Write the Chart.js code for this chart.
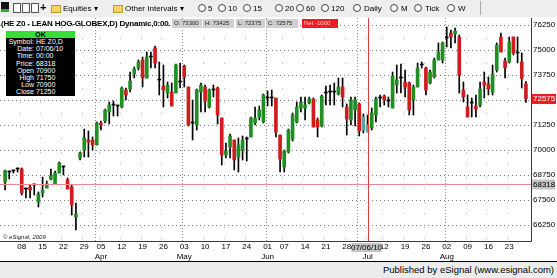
<!DOCTYPE html>
<html>
<head>
<meta charset="utf-8">
<script src="https://cdn.jsdelivr.net/npm/chart.js@4.4.1/dist/chart.umd.min.js"></script>
<style>
body { margin: 0; background: #fff; font-family: "Liberation Sans", Arial, sans-serif; }
#wrap { position: relative; width: 557px; height: 278px; overflow: hidden; }
#chart { position: absolute; left: 0; top: 0; }
.abs { position: absolute; white-space: nowrap; }
#toolbar { left: 0; top: 0; width: 557px; height: 17px; background: #eeeeee; font-size: 8px; color: #000; }
#toolbar .t { position: absolute; top: 4px; }
.clk { position: absolute; top: 4px; width: 6px; height: 6px; border: 1px solid #444; border-radius: 50%; background: #fff; }
.fold { position: absolute; top: 5px; width: 8px; height: 6px; background: #f3d46a; border: 1px solid #b99a30; }
.doc { position: absolute; top: 3px; width: 6px; height: 8px; background: #fff; border: 1px solid #555; }
#title { left: 1px; top: 19px; font-size: 8px; font-weight: bold; letter-spacing: -0.2px; }
.qb { position: absolute; top: 19px; height: 9px; line-height: 9px; font-size: 6px; background: #cfcfcf; color: #222; padding: 0 2px; }
#info { left: 6px; top: 31px; width: 69px; height: 65px; background: #000; color: #fff; font-size: 7px; }
#info .hd { background: #33e033; color: #000; font-weight: bold; text-align: center; height: 7px; line-height: 7px; }
#info .row { height: 7.2px; line-height: 7.2px; }
#info .k { display: inline-block; width: 28px; text-align: right; }
#copy { left: 3px; top: 234px; font-size: 6px; font-style: italic; color: #222; }
#foot { left: 0; top: 261px; width: 557px; height: 17px; background: #ececec; border-top: 1px solid #000; box-sizing: border-box; }
#foot span { position: absolute; right: 3px; top: 2px; font-size: 9.5px; color: #000; }
</style>
</head>
<body>
<div id="wrap">
<canvas id="chart" width="557" height="278"></canvas>
<div id="toolbar" class="abs">
  <div class="abs" style="left:1px;top:2px;width:8px;height:10px;background:#111;border-bottom:3px solid #2eaa2e;box-sizing:border-box"></div>
  <div class="doc" style="left:13px"></div>
  <div class="doc" style="left:22px"></div>
  <div class="doc" style="left:31px"></div>
  <span class="t" style="left:40px;top:1px;font-size:11px;font-weight:bold">+</span>
  <div class="fold" style="left:51px"></div><span class="t" style="left:63px">Equities ▾</span>
  <div class="fold" style="left:113px"></div><span class="t" style="left:125px">Other Intervals ▾</span>
  <div class="clk" style="left:198px"></div><span class="t" style="left:208px">5</span>
  <div class="clk" style="left:218px"></div><span class="t" style="left:228px">10</span>
  <div class="clk" style="left:243px"></div><span class="t" style="left:253px">15</span>
  <div class="clk" style="left:275px"></div><span class="t" style="left:285px">20</span>
  <div class="clk" style="left:296px"></div><span class="t" style="left:306px">60</span>
  <div class="clk" style="left:321px"></div><span class="t" style="left:331px">120</span>
  <div class="clk" style="left:353px"></div><span class="t" style="left:364px">Daily</span>
  <div class="clk" style="left:390px"></div><span class="t" style="left:401px">M</span>
  <div class="clk" style="left:414px"></div><span class="t" style="left:425px">Tick</span>
  <div class="clk" style="left:447px"></div><span class="t" style="left:458px">W</span>
  <div class="abs" style="left:480px;top:1px;width:1px;height:14px;background:#aaa"></div>
</div>
<div id="title" class="abs">(HE Z0 - LEAN HOG-GLOBEX,D) Dynamic,0:00.</div>
<div id="quotes"></div>
<div id="info" class="abs"></div>
<div id="copy" class="abs">© eSignal, 2009</div>
<div id="foot" class="abs"><span>Published by eSignal (www.esignal.com)</span></div>
</div>
<script>
// trading days, Mar 2 - Aug 27 2010
var monthNames = ['Mar', 'Apr', 'May', 'Jun', 'Jul', 'Aug'];
var marDays = [2,3,4,5,8,9,10,11,12,15,16,17,18,19,22,23,24,25,26,29,30,31];
var aprDays = [1,5,6,7,8,9,12,13,14,15,16,19,20,21,22,23,26,27,28,29,30];
var mayDays = [3,4,5,6,7,10,11,12,13,14,17,18,19,20,21,24,25,26,27,28];
var junDays = [1,2,3,4,7,8,9,10,11,14,15,16,17,18,21,22,23,24,25,28,29,30];
var julDays = [1,2,6,7,8,9,12,13,14,15,16,19,20,21,22,23,26,27,28,29,30];
var augDays = [2,3,4,5,6,9,10,11,12,13,16,17,18,19,20,23,24,25,26,27];

var open = [
68400,68900,68950,69050,69050,68050,68150,68250,67400,67850,
68100,68550,68300,68850,69150,68500,68150,66650,69600,70000,
70500,70500,70250,71350,71450,71900,72250,72200,72150,73000,
73050,73800,74100,74500,73600,74650,75100,73500,73200,72850,
72900,72850,73400,74200,73150,71350,71250,72900,73150,72150,
73000,73100,71600,69750,70150,70500,69650,70000,70550,70650,
71350,71650,71400,72600,72600,72600,70750,69150,69900,70550,
71400,72100,72100,72350,72550,71500,71200,72850,72900,72900,
72800,73150,72150,71500,72000,72300,71000,70900,71100,71750,
72600,72700,72450,72100,73250,73600,73400,73350,72500,73150,
74250,74100,73350,73650,74500,74500,75600,75850,75800,75650,
73000,72150,72350,72200,72250,73400,73300,72900,74000,75650,
74450,74400,75650,74850,74400,73300];
var high = [
69000,68950,69000,69100,69100,68100,68250,68300,67900,68650,
68450,69050,68950,69400,69200,68600,68250,67350,69900,71050,
70950,70650,71400,71450,72050,72400,72450,72250,73150,73100,
73900,74150,74500,74650,74900,74900,75200,74400,74250,73400,
73350,74300,74350,74250,73150,72500,73050,73350,73250,73050,
73250,73150,71600,70350,70800,70500,70600,70700,70650,71650,
72150,72200,72800,72950,73000,72600,70750,70000,71050,71850,
72400,72650,72650,72650,72600,71600,72750,73200,73250,73350,
73600,73600,72300,72650,72650,72350,71800,71750,72100,72650,
72750,72750,72650,73900,74250,74300,74000,73400,73250,74350,
74400,74150,74000,74600,75350,75400,76150,76000,76100,75750,
73400,72750,72600,72750,73400,73900,73650,74250,75350,75850,
74600,75650,75650,75650,74850,73425];
var low = [
68000,68550,68850,68900,67750,67600,67600,67750,67150,67650,
68100,68500,68300,68850,68750,68050,66750,66000,69500,69650,
69650,70000,70250,71000,71350,71300,71700,71700,72100,72500,
72900,73600,74000,73150,73600,74100,74100,72750,72150,72600,
72200,72850,73100,73150,71200,70500,71000,71900,71900,72100,
72650,71300,69250,69600,69600,69000,68900,69500,69450,70650,
71250,71500,71350,72200,72200,70650,68900,68900,69850,70450,
71350,71900,71500,72300,71150,70650,71150,72250,72250,72250,
72750,72150,70750,71250,71200,70700,70850,70900,71000,71400,
72150,72250,72150,72100,72850,72850,72650,71750,71750,73150,
74100,72750,73300,73600,74500,74350,75150,75100,75350,72850,
72400,71650,71650,71650,72150,72600,72750,72750,73900,74900,
73600,74350,74750,74350,73100,72375];
var close = [
68950,68900,68950,69050,67850,68050,68000,68250,67800,68000,
68300,68700,68850,69350,69150,68050,67250,66800,69850,70600,
70400,70250,71350,71250,72000,72250,72250,72200,73100,72750,
73450,74050,74400,73600,74650,74650,74350,73500,73000,73250,
72200,74250,73400,73650,71250,71350,73000,73250,72450,73000,
73000,71750,69750,69950,70700,69500,70250,70500,70550,71600,
71600,72000,72750,72600,72600,70900,69550,69950,71000,71750,
72150,72400,72250,72550,71150,71150,72700,72850,72900,72900,
73150,72650,71550,72500,72500,70950,71650,71250,71850,72550,
72600,72500,72450,73700,73500,73600,73150,72000,73150,74100,
74250,73000,73900,74500,74900,75350,75600,75650,75950,73750,
72650,71650,72350,72050,73050,73250,73050,73800,75250,74900,
74100,75400,74850,74850,73575,72575];

var priceTicks = [66250, 67500, 68750, 70000, 71250, 72500, 73750, 75000, 76250];
var cursorDate = '07/06/10';
var cursorPrice = 68318;
var highlighted = ['07/02/10', '07/06/10'];

var upColor = '#1f8f22', downColor = '#d01c1c', flatColor = '#000000', hiColor = '#5fa39c';

var dates = [];
[marDays, aprDays, mayDays, junDays, julDays, augDays].forEach(function(list, m) {
    list.forEach(function(d) {
        dates.push({ m: m, d: d, date: new Date(2010, m + 2, d) });
    });
});
function fmt(o) {
    var mm = String(o.m + 3).padStart(2, '0');
    return mm + '/' + String(o.d).padStart(2, '0') + '/10';
}
var labels = dates.map(fmt);
var cursorIdx = labels.indexOf(cursorDate);
var last = close.length - 1;

// week starts and month starts
var weekStart = dates.map(function(o, i) {
    return i > 0 && o.date.getDay() <= dates[i - 1].date.getDay();
});
var monthStart = dates.map(function(o, i) {
    return i > 0 && o.m != dates[i - 1].m;
});

function bodyColor(i) {
    if (highlighted.indexOf(labels[i]) >= 0) return hiColor;
    if (close[i] > open[i]) return upColor;
    if (close[i] < open[i]) return downColor;
    return flatColor;
}

// header quote boxes
var quoteBoxes = [
    { x: 172, w: 30, t: 'O: ' + open[last] },
    { x: 203, w: 31, t: 'H: ' + high[last] },
    { x: 236, w: 29, t: 'L: ' + low[last] },
    { x: 266, w: 32, t: 'C: ' + close[last] },
    { x: 302, w: 36, t: 'Net ' + (close[last] - close[last - 1]), red: true }
];
document.getElementById('quotes').innerHTML = quoteBoxes.map(function(b) {
    var st = 'left:' + b.x + 'px;width:' + (b.w - 4) + 'px;';
    if (b.red) st += 'background:#ee1d23;color:#ffc8c8;';
    return '<div class="qb" style="' + st + '">' + b.t + '</div>';
}).join('');

var rows = [
    ['Symbol:', 'HE Z0,D'], ['Date:', cursorDate], ['Time:', '00:00'], ['Price:', cursorPrice],
    ['Open', open[cursorIdx]], ['High', high[cursorIdx]], ['Low', low[cursorIdx]], ['Close', close[cursorIdx]]
];
document.getElementById('info').innerHTML = '<div class="hd">OK</div>' + rows.map(function(r) {
    return '<div class="row"><span class="k">' + r[0] + '</span> ' + r[1] + '</div>';
}).join('');

function dotted(ctx, x1, y1, x2, y2, color, dash) {
    ctx.save();
    ctx.strokeStyle = color;
    ctx.lineWidth = 1;
    ctx.setLineDash(dash);
    ctx.beginPath();
    ctx.moveTo(x1, y1);
    ctx.lineTo(x2, y2);
    ctx.stroke();
    ctx.restore();
}

var gridPlugin = {
    id: 'grid',
    beforeDatasetsDraw: function(chart) {
        var ctx = chart.ctx, a = chart.chartArea;
        var xs = chart.scales.x, ys = chart.scales.y;
        var half = (xs.getPixelForValue(1) - xs.getPixelForValue(0)) / 2;
        ctx.save();
        // faint dots on week boundaries
        ctx.fillStyle = '#b4b4b4';
        for (var i = 0; i < labels.length; i++) {
            if (!weekStart[i] || monthStart[i]) continue;
            var x = Math.round(xs.getPixelForValue(i) - half);
            for (var k = 0; k < priceTicks.length; k++) {
                var yv = Math.round(ys.getPixelForValue(priceTicks[k] + 625));
                if (yv > a.top) ctx.fillRect(x, yv, 1, 1);
                ctx.fillRect(x, Math.round(ys.getPixelForValue(priceTicks[k])) + 2, 1, 1);
            }
            var yb = Math.round(ys.getPixelForValue(priceTicks[0] - 625));
            ctx.fillRect(x, yb, 1, 1);
        }
        ctx.restore();
        priceTicks.forEach(function(v) {
            var y = Math.round(ys.getPixelForValue(v)) + 0.5;
            dotted(ctx, 0, y, 531, y, '#7a7a7a', [1, 3]);
        });
        for (var j = 0; j < labels.length; j++) {
            if (!monthStart[j]) continue;
            var mx = Math.round(xs.getPixelForValue(j) - half) + 0.5;
            dotted(ctx, mx, a.top, mx, a.bottom, '#8a8a8a', [1, 2]);
        }
    },
    afterDraw: function(chart) {
        var ctx = chart.ctx, a = chart.chartArea;
        var xs = chart.scales.x, ys = chart.scales.y;
        ctx.save();
        // crosshair
        var cx = Math.round(xs.getPixelForValue(cursorIdx)) + 0.5;
        var cy = Math.round(ys.getPixelForValue(cursorPrice)) + 0.5;
        ctx.strokeStyle = '#f08a8a';
        ctx.lineWidth = 1;
        ctx.beginPath(); ctx.moveTo(0, cy); ctx.lineTo(531, cy); ctx.stroke();
        ctx.strokeStyle = '#d94040';
        ctx.beginPath(); ctx.moveTo(cx, a.top); ctx.lineTo(cx, a.bottom); ctx.stroke();
        // axis frame
        ctx.strokeStyle = '#3a3a3a';
        ctx.beginPath();
        ctx.moveTo(531.5, a.top); ctx.lineTo(531.5, a.bottom + 0.5);
        ctx.moveTo(0, a.bottom + 0.5); ctx.lineTo(531.5, a.bottom + 0.5);
        ctx.stroke();
        ctx.font = '8px "Liberation Sans", Arial, sans-serif';
        ctx.textBaseline = 'middle';
        // last price box
        var ly = Math.round(ys.getPixelForValue(close[last]));
        ctx.fillStyle = '#ee1d23';
        ctx.fillRect(532, ly - 5, 24, 10);
        ctx.fillStyle = '#fff';
        ctx.fillText(String(close[last]), 533, ly);
        // cursor price box
        ctx.fillStyle = '#c4c4c4';
        ctx.fillRect(532, cy - 5, 23, 10);
        ctx.fillStyle = '#000';
        ctx.fillText(String(cursorPrice), 533, cy);
        // cursor date box
        ctx.fillStyle = '#c4c4c4';
        ctx.fillRect(cx - 17, a.bottom + 2, 30, 9);
        ctx.fillStyle = '#000';
        ctx.textAlign = 'center';
        ctx.fillText(cursorDate, cx - 2, a.bottom + 6.5);
        ctx.restore();
    }
};

new Chart(document.getElementById('chart'), {
    type: 'bar',
    data: {
        labels: labels,
        datasets: [{
            data: low.map(function(l, i) { return [l, high[i]]; }),
            backgroundColor: '#000',
            barThickness: 1,
            grouped: false,
            order: 2
        }, {
            data: open.map(function(o, i) { return [o, close[i]]; }),
            backgroundColor: function(c) { return bodyColor(c.dataIndex); },
            barThickness: 3,
            minBarLength: 1,
            grouped: false,
            order: 1
        }]
    },
    options: {
        responsive: false,
        animation: false,
        layout: { padding: { left: 3, right: 0, top: 18, bottom: 17 } },
        plugins: { legend: { display: false }, tooltip: { enabled: false } },
        scales: {
            x: {
                offset: true,
                grid: { display: false, drawTicks: false },
                border: { display: false },
                afterFit: function(s) { s.height = 20; },
                ticks: {
                    autoSkip: false,
                    maxRotation: 0,
                    padding: 1,
                    color: '#000',
                    font: { family: '"Liberation Sans", Arial, sans-serif', size: 8, lineHeight: 1.25 },
                    callback: function(v, i) {
                        if (!weekStart[i]) return null;
                        var dd = String(dates[i].d).padStart(2, '0');
                        var prev = -1;
                        for (var k = i - 1; k >= 0; k--) if (weekStart[k]) { prev = k; break; }
                        if (prev >= 0 && dates[prev].m != dates[i].m) return [dd, monthNames[dates[i].m]];
                        return dd;
                    }
                }
            },
            y: {
                position: 'right',
                min: 65450,
                max: 76600,
                grid: { display: false, drawTicks: false },
                border: { display: false },
                afterFit: function(s) { s.width = 29; },
                afterBuildTicks: function(s) {
                    s.ticks = priceTicks.map(function(v) { return { value: v }; });
                },
                ticks: {
                    padding: 5,
                    color: '#000',
                    font: { family: '"Liberation Sans", Arial, sans-serif', size: 8 },
                    callback: function(v) { return String(v); }
                }
            }
        }
    },
    plugins: [gridPlugin]
});
</script>
</body>
</html>
